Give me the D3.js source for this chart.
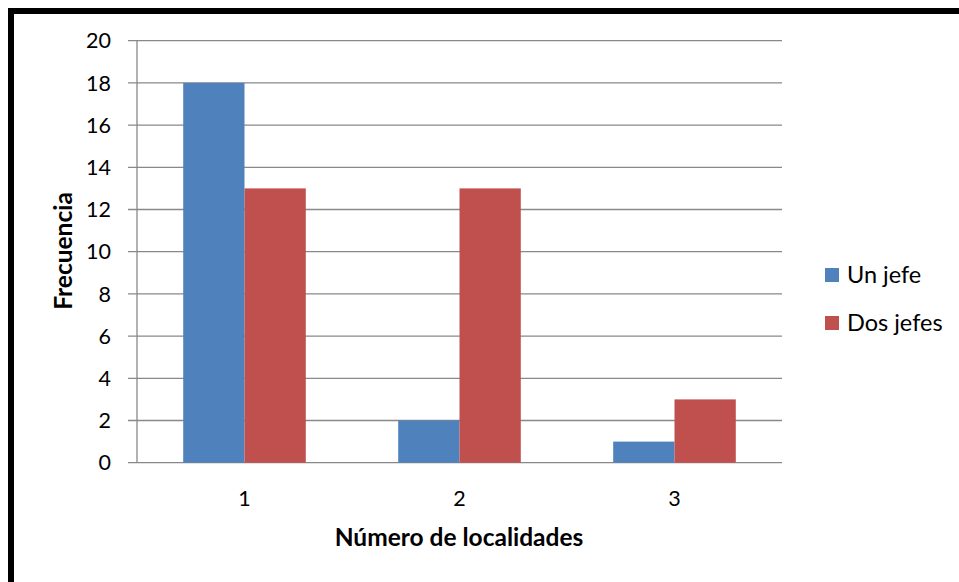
<!DOCTYPE html>
<html>
<head>
<meta charset="utf-8">
<script src="https://cdn.jsdelivr.net/npm/d3@7"></script>
<style>
  body { margin: 0; background: #fff; }
  svg text { font-family: Lato, "Open Sans", sans-serif; fill: #000; }
</style>
</head>
<body>
<div id="chart"></div>
<script>
// data
const categories = ['1', '2', '3'];
const seriesNames = ['Un jefe', 'Dos jefes'];
const unJefe = [18, 2, 1];
const dosJefes = [13, 13, 3];
const yTicks = [0, 2, 4, 6, 8, 10, 12, 14, 16, 18, 20];
const colors = ['#4F81BD', '#C0504D'];

const width = 959, height = 582;
const plot = { left: 137, right: 782, top: 40.7, bottom: 462.7 };

const svg = d3.select('#chart').append('svg')
    .attr('width', width).attr('height', height);

svg.append('rect').attr('width', width).attr('height', height).attr('fill', '#fff');

// thick black frame, runs off the right and bottom edges
svg.append('rect')
    .attr('x', 11).attr('y', 11)
    .attr('width', width + 20).attr('height', height + 20)
    .attr('fill', 'none').attr('stroke', '#000').attr('stroke-width', 6);

const x0 = d3.scaleBand().domain(categories).range([plot.left, plot.right]).padding(0);
const x1 = d3.scaleBand().domain(seriesNames).range([0, x0.bandwidth()])
    .paddingInner(0).paddingOuter(0.754);
const y = d3.scaleLinear().domain([0, 20]).range([plot.bottom, plot.top]);

// gridlines + left ticks
svg.append('g').selectAll('line').data(yTicks).join('line')
    .attr('x1', plot.left - 9).attr('x2', plot.right)
    .attr('y1', d => y(d)).attr('y2', d => y(d))
    .attr('stroke', '#898989').attr('stroke-width', 1.3);

// y axis line
svg.append('line')
    .attr('x1', plot.left).attr('x2', plot.left)
    .attr('y1', plot.top).attr('y2', plot.bottom)
    .attr('stroke', '#898989').attr('stroke-width', 1.3);

// y labels
svg.append('g').selectAll('text').data(yTicks).join('text')
    .attr('x', 111).attr('y', d => y(d))
    .attr('dy', '0.36em')
    .attr('text-anchor', 'end')
    .attr('font-size', 21.5)
    .text(d => d);

// bars
const rows = categories.map((c, i) => ({ cat: c, vals: [unJefe[i], dosJefes[i]] }));
const groups = svg.append('g').selectAll('g').data(rows).join('g')
    .attr('transform', d => `translate(${x0(d.cat)},0)`);
groups.selectAll('rect').data(d => d.vals.map((v, j) => ({ name: seriesNames[j], v: v, j: j })))
  .join('rect')
    .attr('x', d => x1(d.name))
    .attr('width', x1.bandwidth())
    .attr('y', d => y(d.v))
    .attr('height', d => y(0) - y(d.v))
    .attr('fill', d => colors[d.j]);

// x labels
svg.append('g').selectAll('text').data(categories).join('text')
    .attr('x', d => x0(d) + x0.bandwidth() / 2)
    .attr('y', 506)
    .attr('text-anchor', 'middle')
    .attr('font-size', 21.5)
    .text(d => d);

// axis titles
svg.append('text')
    .attr('x', 459).attr('y', 546)
    .attr('text-anchor', 'middle')
    .attr('font-size', 24.5).attr('font-weight', 'bold')
    .text('Número de localidades');

svg.append('text')
    .attr('transform', 'translate(72,251) rotate(-90)')
    .attr('text-anchor', 'middle')
    .attr('font-size', 24.5).attr('font-weight', 'bold')
    .text('Frecuencia');

// legend
const legend = svg.append('g').selectAll('g').data(seriesNames).join('g')
    .attr('transform', (d, i) => `translate(825,${275 + i * 48})`);
legend.append('rect')
    .attr('x', 0).attr('y', -7).attr('width', 14).attr('height', 14)
    .attr('fill', (d, i) => colors[i]);
legend.append('text')
    .attr('x', 22).attr('y', 8)
    .attr('font-size', 23.5)
    .text(d => d);
</script>
</body>
</html>
